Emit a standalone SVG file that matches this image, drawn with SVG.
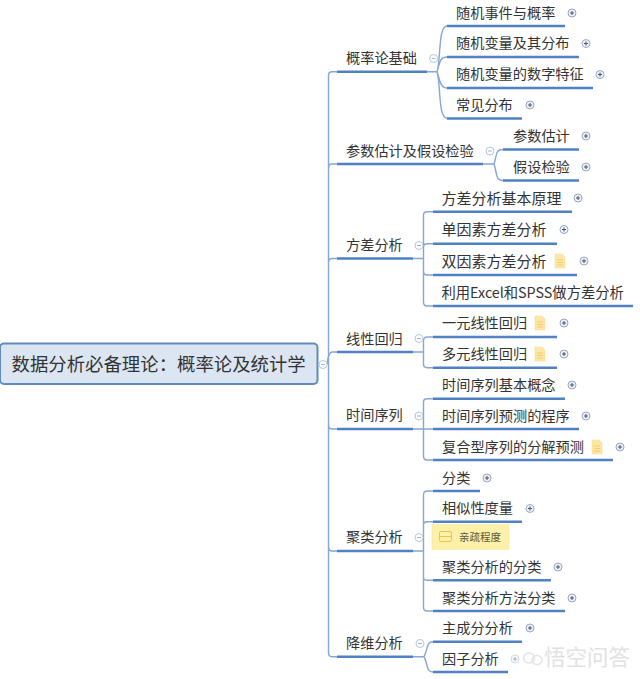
<svg xmlns="http://www.w3.org/2000/svg" width="640" height="679" viewBox="0 0 640 679">
<style>
text{font-family:"Noto Sans CJK SC","Noto Sans",sans-serif;fill:#333;font-size:14.2px}
.u{fill:none;stroke:#4f81c4;stroke-width:2.6}
.c{fill:none;stroke:#84a7d8;stroke-width:1.4}
.root{fill:#dce6f2;stroke:#5f8bbd;stroke-width:2}
.note{fill:#fde7a6;stroke:#f7d98a;stroke-width:.5}
.nl{stroke:#f3c868;stroke-width:.8}
.pc{fill:#eef1f7;stroke:#9aa8c2;stroke-width:1}
.pp{stroke:#4a5568;stroke-width:1}
.mc{fill:#fff;stroke:#b4c6de;stroke-width:1}
.mm{stroke:#9fb3cf;stroke-width:1}
</style>
<defs>
<g id="plus"><circle class="pc" r="4"/><path class="pp" d="M-2 0H2M0-2V2"/></g>
<g id="minus"><circle class="mc" r="4"/><path class="mm" d="M-2 0H2"/></g>
<g id="note"><path class="note" d="M-5-7H2L5-4V7H-5Z"/><path class="nl" d="M-3-1H3M-3 1.5H3M-3 4H3"/></g>
</defs>
<rect width="640" height="679" fill="#fff"/>
<g id="connectors">
<path class="c" d="M337 71.700H332Q328.500 71.700 328.500 75V653Q328.500 656.700 332 656.700H337"/>
<path class="c" d="M328.500 168Q328.500 164 332 164H337M328.500 262Q328.500 258.500 332 258.500H337M327 364.500Q328.500 352 332 352H337M328.500 425Q328.500 429 332 429H337M328.500 547Q328.500 551 332 551H337"/>
<path class="c" d="M427 71.700H437M437 71.700C441 60 438 26 447 26M437 71.700C440 62 440 57 447 57M437 71.700C440 80 440 88 447 88M437 71.700C441 85 438 118 447 118"/>
<path class="c" d="M483 164H494M494 164C497 155 495 149.500 503 149.500M494 164C497 172 495 180.500 503 180.500"/>
<path class="c" d="M413 258.500H423.500M433 211.700H427Q423.500 211.700 423.500 215V302Q423.500 306 427 306H433M423.500 247Q423.500 243.700 427 243.700H433M423.500 271Q423.500 275 427 275H433"/>
<path class="c" d="M413 352H423.500M433 337H427Q423.500 337 423.500 341V364Q423.500 367.700 427 367.700H433"/>
<path class="c" d="M413 429H423.500M433 398.700H427Q423.500 398.700 423.500 402V456Q423.500 460 427 460H433M423.500 429H433"/>
<path class="c" d="M413 551H423.500M433 491H427Q423.500 491 423.500 495V607Q423.500 611 427 611H433M423.500 525Q423.500 521.700 427 521.700H433M423.500 577Q423.500 580.300 427 580.300H433"/>
<path class="c" d="M413 656.700H424M424 656.700C428 650 426 641.700 433 641.700M424 656.700C428 664 426 672 433 672"/>
</g>
<g id="root"><rect class="root" x="0" y="343.500" width="317.500" height="40.500" rx="4"/><text x="11.500" y="371" style="font-size:18.400px">数据分析必备理论：概率论及统计学</text><use href="#minus" x="323" y="364.500"/></g>
<g id="n1"><path class="u" d="M337 71.700H427"/><text x="346" y="63">概率论基础</text><use href="#minus" x="433.700" y="58.500"/></g>
<g id="n1a"><path class="u" d="M447 26H565"/><text x="456" y="18">随机事件与概率</text><use href="#plus" x="572" y="13"/></g>
<g id="n1b"><path class="u" d="M447 57H579"/><text x="456" y="48">随机变量及其分布</text><use href="#plus" x="586" y="43.500"/></g>
<g id="n1c"><path class="u" d="M447 88H593"/><text x="456" y="79">随机变量的数字特征</text><use href="#plus" x="600" y="74.500"/></g>
<g id="n1d"><path class="u" d="M447 118.500H522"/><text x="456" y="110">常见分布</text><use href="#plus" x="530" y="105"/></g>
<g id="n2"><path class="u" d="M337 164H483"/><text x="346" y="156">参数估计及假设检验</text><use href="#minus" x="490" y="151"/></g>
<g id="n2a"><path class="u" d="M503 149.500H579"/><text x="513" y="141">参数估计</text><use href="#plus" x="586" y="136"/></g>
<g id="n2b"><path class="u" d="M503 180.500H579"/><text x="513" y="172">假设检验</text><use href="#plus" x="586" y="167"/></g>
<g id="n3"><path class="u" d="M337 258.500H413"/><text x="346" y="250">方差分析</text><use href="#minus" x="419" y="245.500"/></g>
<g id="n3a"><path class="u" d="M433 211.700H572"/><text x="441.500" y="203.500" style="font-size:15px">方差分析基本原理</text><use href="#plus" x="578" y="198"/></g>
<g id="n3b"><path class="u" d="M433 243.700H557"/><text x="441.500" y="235" style="font-size:15px">单因素方差分析</text><use href="#plus" x="564" y="229.500"/></g>
<g id="n3c"><path class="u" d="M433 275H577"/><text x="441.500" y="266.500" style="font-size:15px">双因素方差分析</text><use href="#note" x="560" y="261"/><use href="#plus" x="584" y="261"/></g>
<g id="n3d"><path class="u" d="M433 306H633"/><text x="441.500" y="297.500" style="font-size:14.300px">利用Excel和SPSS做方差分析</text></g>
<g id="n4"><path class="u" d="M337 352H413"/><text x="346" y="343.500">线性回归</text><use href="#minus" x="419" y="338.500"/></g>
<g id="n4a"><path class="u" d="M433 337H557"/><text x="442" y="328">一元线性回归</text><use href="#note" x="540" y="323"/><use href="#plus" x="564" y="323"/></g>
<g id="n4b"><path class="u" d="M433 367.700H557"/><text x="442" y="359">多元线性回归</text><use href="#note" x="540" y="354"/><use href="#plus" x="564" y="354"/></g>
<g id="n5"><path class="u" d="M337 429H413"/><text x="346" y="420">时间序列</text><use href="#minus" x="419" y="416"/></g>
<g id="n5a"><path class="u" d="M433 398.700H565"/><text x="442" y="390">时间序列基本概念</text><use href="#plus" x="572" y="385"/></g>
<g id="n5b"><path class="u" d="M433 429H579"/><text x="442" y="421">时间序列预测的程序</text><use href="#plus" x="586" y="416"/></g>
<g id="n5c"><path class="u" d="M433 460H613"/><text x="442" y="452">复合型序列的分解预测</text><use href="#note" x="597" y="447"/><use href="#plus" x="620" y="447"/></g>
<g id="n6"><path class="u" d="M337 551H413"/><text x="346" y="542">聚类分析</text><use href="#minus" x="419" y="537.500"/></g>
<g id="n6a"><path class="u" d="M433 491H480"/><text x="442" y="483">分类</text><use href="#plus" x="487" y="478"/></g>
<g id="n6b"><path class="u" d="M433 521.700H522"/><text x="442" y="513">相似性度量</text><use href="#plus" x="530" y="508.500"/></g>
<g id="n6c"><rect x="432" y="524.700" width="77" height="24.600" fill="#fdf0a8" stroke="#fbe89a" stroke-width=".6"/><rect x="439.500" y="531.500" width="12" height="10" rx="1.500" fill="none" stroke="#eec24f" stroke-width="1"/><path d="M439.500 536.500H451.500" stroke="#eec24f" stroke-width="1"/><text x="459" y="541" style="font-size:10.500px;fill:#5a5a3c">亲疏程度</text></g>
<g id="n6d"><path class="u" d="M433 580.300H551"/><text x="442" y="572">聚类分析的分类</text><use href="#plus" x="558" y="567"/></g>
<g id="n6e"><path class="u" d="M433 611H565"/><text x="442" y="603">聚类分析方法分类</text><use href="#plus" x="572" y="598"/></g>
<g id="n7"><path class="u" d="M337 656.700H413"/><text x="346" y="648">降维分析</text><use href="#minus" x="420" y="643.500"/></g>
<g id="n7a"><path class="u" d="M433 641.700H522"/><text x="442" y="633">主成分分析</text><use href="#plus" x="530" y="628"/></g>
<g id="n7b"><path class="u" d="M433 672H508"/><text x="442" y="664">因子分析</text><use href="#plus" x="515" y="659" opacity=".45"/></g>
<g id="watermark"><ellipse cx="529" cy="658" rx="5.500" ry="5" fill="none" stroke="#e2e2e2" stroke-width="1.500"/><ellipse cx="537" cy="660" rx="5" ry="4.500" fill="none" stroke="#e2e2e2" stroke-width="1.500"/><text x="544" y="665" style="font-size:21.500px;fill:#e2e2e2">悟空问答</text></g>
</svg>
